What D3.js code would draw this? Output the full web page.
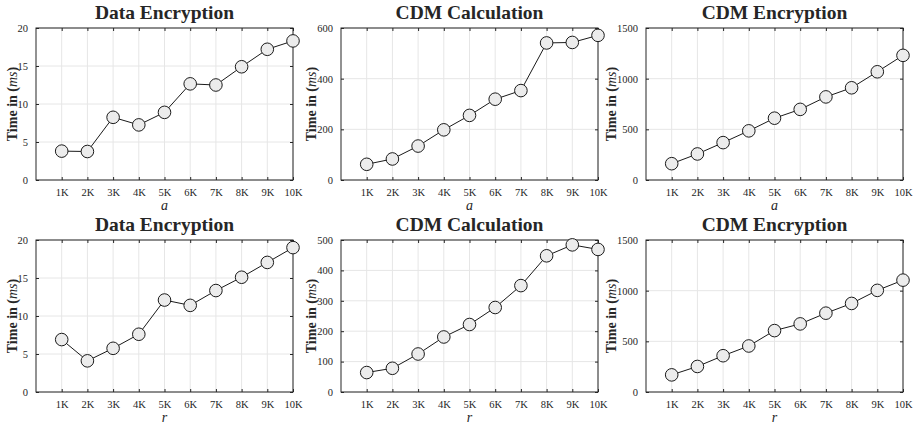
<!DOCTYPE html>
<html>
<head>
<meta charset="utf-8">
<script src="https://cdn.jsdelivr.net/npm/d3@7"></script>
<style>
  body { margin: 0; background: #fff; }
  text { font-family: "Liberation Serif", "DejaVu Serif", serif; fill: #262626; }
</style>
</head>
<body>
<div id="chart"></div>
<script>
// x categories
var xLabels = ["1K", "2K", "3K", "4K", "5K", "6K", "7K", "8K", "9K", "10K"];

// series values
var dataEncA = [3.8, 3.75, 8.25, 7.25, 8.9, 12.65, 12.5, 14.9, 17.2, 18.3];
var cdmCalcA = [62, 83, 134, 198, 255, 319, 353, 541, 543, 571];
var cdmEncA  = [161, 257, 369, 485, 610, 697, 820, 910, 1068, 1230];
var dataEncR = [6.9, 4.1, 5.75, 7.6, 12.1, 11.4, 13.35, 15.1, 17.05, 19.0];
var cdmCalcR = [64, 78, 125, 181, 222, 278, 350, 448, 484, 469];
var cdmEncR  = [169, 252, 358, 454, 606, 672, 778, 874, 1003, 1104];

// titles and tick values
var titles = ["Data Encryption", "CDM Calculation", "CDM Encryption"];
var yTicksDE = [0, 5, 10, 15, 20];
var yTicksCalcA = [0, 200, 400, 600];
var yTicksCalcR = [0, 100, 200, 300, 400, 500];
var yTicksEnc = [0, 500, 1000, 1500];

var panels = [
  { title: titles[0], values: dataEncA, ticks: yTicksDE, xName: "a", col: 0, row: 0 },
  { title: titles[1], values: cdmCalcA, ticks: yTicksCalcA, xName: "a", col: 1, row: 0 },
  { title: titles[2], values: cdmEncA, ticks: yTicksEnc, xName: "a", col: 2, row: 0 },
  { title: titles[0], values: dataEncR, ticks: yTicksDE, xName: "r", col: 0, row: 1 },
  { title: titles[1], values: cdmCalcR, ticks: yTicksCalcR, xName: "r", col: 1, row: 1 },
  { title: titles[2], values: cdmEncR, ticks: yTicksEnc, xName: "r", col: 2, row: 1 }
];

var width = 921, height = 426;
var colLeft = [36, 341, 646];
var plotW = 257;
var rowTop = [28, 240];
var plotH = 152;

var svg = d3.select("#chart").append("svg")
  .attr("width", width)
  .attr("height", height);

panels.forEach(function(p) {
  var left = colLeft[p.col], top = rowTop[p.row];
  var g = svg.append("g").attr("transform", `translate(${left}, ${top})`);

  var x = d3.scaleLinear().domain([0, 10]).range([0, plotW]);
  var y = d3.scaleLinear().domain([0, d3.max(p.ticks)]).range([plotH, 0]);

  // grid
  g.append("g").selectAll("line").data(d3.range(1, 11)).enter().append("line")
    .attr("x1", d => x(d)).attr("x2", d => x(d))
    .attr("y1", 0).attr("y2", plotH)
    .attr("stroke", "#e6e6e6").attr("stroke-width", 1);
  g.append("g").selectAll("line").data(p.ticks).enter().append("line")
    .attr("x1", 0).attr("x2", plotW)
    .attr("y1", d => y(d)).attr("y2", d => y(d))
    .attr("stroke", "#e6e6e6").attr("stroke-width", 1);

  // axes with inward ticks (matlab style, on all four sides)
  var xAxis = d3.axisBottom(x).tickValues(d3.range(1, 11))
    .tickFormat(d => xLabels[d - 1]).tickSizeInner(-3).tickSizeOuter(0).tickPadding(8.5);
  var xTop = d3.axisTop(x).tickValues(d3.range(1, 11))
    .tickFormat("").tickSizeInner(-3).tickSizeOuter(0);
  var yAxis = d3.axisLeft(y).tickValues(p.ticks).tickFormat(d3.format("d"))
    .tickSizeInner(-3).tickSizeOuter(0).tickPadding(8);
  var yRight = d3.axisRight(y).tickValues(p.ticks).tickFormat("").tickSizeInner(-3).tickSizeOuter(0);

  var gx = g.append("g").attr("transform", `translate(0, ${plotH})`).call(xAxis);
  g.append("g").call(xTop);
  var gy = g.append("g").call(yAxis);
  g.append("g").attr("transform", `translate(${plotW}, 0)`).call(yRight);

  g.selectAll(".domain").remove();
  [gx, gy].forEach(function(a) {
    a.selectAll("text").style("font-size", "10.5px").attr("fill", "#262626");
  });
  g.selectAll(".tick line").attr("stroke", "#262626");

  // frame
  g.append("rect")
    .attr("width", plotW).attr("height", plotH)
    .attr("fill", "none").attr("stroke", "#262626").attr("stroke-width", 1);

  // line + markers
  var line = d3.line().x((d, i) => x(i + 1)).y(d => y(d));
  g.append("path").datum(p.values)
    .attr("d", line).attr("fill", "none")
    .attr("stroke", "#1a1a1a").attr("stroke-width", 1);
  g.append("g").selectAll("circle").data(p.values).enter().append("circle")
    .attr("cx", (d, i) => x(i + 1))
    .attr("cy", d => y(d))
    .attr("r", 6.3)
    .attr("fill", "#ececec")
    .attr("stroke", "#1a1a1a")
    .attr("stroke-width", 1);

  // title
  g.append("text")
    .attr("x", plotW / 2).attr("y", -9)
    .attr("text-anchor", "middle")
    .style("font-size", "19.5px").style("font-weight", "bold")
    .text(p.title);

  // x label
  g.append("text")
    .attr("x", plotW / 2).attr("y", plotH + 30)
    .attr("text-anchor", "middle")
    .style("font-size", "14px").style("font-style", "italic")
    .text(p.xName);

  // y label, placed just left of the widest tick label
  var tickW = d3.max(gy.selectAll("text").nodes(), n => n.getBBox().width);
  var yl = g.append("text")
    .attr("transform", `translate(${-(tickW + 9)}, ${plotH / 2}) rotate(-90)`)
    .attr("text-anchor", "middle")
    .style("font-size", "14px").style("font-weight", "bold");
  yl.append("tspan").text("Time in (");
  yl.append("tspan").style("font-style", "italic").style("font-weight", "normal").text("ms");
  yl.append("tspan").text(")");
});
</script>
</body>
</html>
